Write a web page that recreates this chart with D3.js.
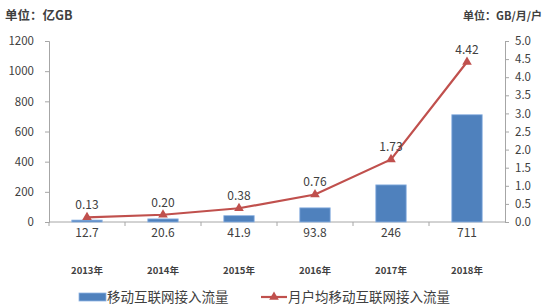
<!DOCTYPE html>
<html>
<head>
<meta charset="utf-8">
<script src="https://cdn.jsdelivr.net/npm/d3@7"></script>
<style>
body { margin: 0; background: #fff; }
text { font-family: "Noto Sans CJK SC", "Noto Sans", sans-serif; fill: #404040; }
</style>
</head>
<body>
<div id="chart"></div>
<script>
const years = ["2013年", "2014年", "2015年", "2016年", "2017年", "2018年"]
const traffic = [12.7, 20.6, 41.9, 93.8, 246, 711]           // 亿GB
const perUser = [0.13, 0.20, 0.38, 0.76, 1.73, 4.42]        // GB/月/户
const trafficLabels = ["12.7", "20.6", "41.9", "93.8", "246", "711"]
const perUserLabels = ["0.13", "0.20", "0.38", "0.76", "1.73", "4.42"]
const leftTicks = [0, 200, 400, 600, 800, 1000, 1200]
const rightTicks = d3.range(0, 5.01, 0.5)

var width = 545, height = 308
var margin = {top: 41, right: 40, bottom: 86, left: 49}
var innerW = width - margin.left - margin.right,
    innerH = height - margin.top - margin.bottom

const svg = d3.select("#chart").append("svg")
    .attr("width", width)
    .attr("height", height)

const g = svg.append("g")
    .attr("transform", "translate(" + margin.left + "," + margin.top + ")")

var x = d3.scaleBand().domain(years).range([0, innerW]).paddingInner(0.6).paddingOuter(0.3)
var xBand = d3.scaleBand().domain(years).range([0, innerW])
var yL = d3.scaleLinear().domain([0, 1200]).range([innerH, 0])
var yR = d3.scaleLinear().domain([0, 5]).range([innerH, 0])

// left axis
var axL = g.append("g").call(d3.axisLeft(yL).tickValues(leftTicks).tickFormat(d3.format("d")).tickSize(4).tickPadding(11))
axL.select(".domain").attr("stroke", "#a6a6a6")
axL.selectAll(".tick line").attr("stroke", "#a6a6a6")
axL.selectAll("text").style("font-size", "11.5px").attr("fill", "#404040")

// right axis
var axR = g.append("g").attr("transform", "translate(" + innerW + ",0)")
    .call(d3.axisRight(yR).tickValues(rightTicks).tickFormat(d3.format(".1f")).tickSize(4).tickPadding(6))
axR.select(".domain").attr("stroke", "#a6a6a6")
axR.selectAll(".tick line").attr("stroke", "#a6a6a6")
axR.selectAll("text").style("font-size", "11.5px").attr("fill", "#404040")

// x axis line with ticks at band edges
g.append("line").attr("x1", 0).attr("x2", innerW).attr("y1", innerH).attr("y2", innerH)
    .attr("stroke", "#a6a6a6")
g.selectAll(".xtick").data(years).enter().append("line")
    .attr("x1", d => xBand(d)).attr("x2", d => xBand(d))
    .attr("y1", innerH).attr("y2", innerH + 4)
    .attr("stroke", "#a6a6a6")

// bars
g.selectAll(".bar").data(traffic).enter().append("rect")
    .attr("x", (d, i) => x(years[i]))
    .attr("y", d => yL(d))
    .attr("width", x.bandwidth())
    .attr("height", d => innerH - yL(d))
    .attr("fill", "#4f81bd")
    .attr("stroke", "#8fb4e3")
    .attr("stroke-width", 0.8)

// bar value labels under axis
g.selectAll(".blabel").data(trafficLabels).enter().append("text")
    .attr("x", (d, i) => xBand(years[i]) + xBand.bandwidth() / 2)
    .attr("y", innerH + 15)
    .attr("text-anchor", "middle")
    .style("font-size", "12px")
    .text(d => d)

// year labels
g.selectAll(".year").data(years).enter().append("text")
    .attr("x", d => xBand(d) + xBand.bandwidth() / 2)
    .attr("y", innerH + 52)
    .attr("text-anchor", "middle")
    .style("font-size", "9.5px")
    .style("font-weight", "bold")
    .attr("fill", "#404040")
    .text(d => d)

// line
var line = d3.line()
    .x((d, i) => xBand(years[i]) + xBand.bandwidth() / 2)
    .y(d => yR(d))

g.append("path").datum(perUser)
    .attr("d", line)
    .attr("fill", "none")
    .attr("stroke", "#c0504d")
    .attr("stroke-width", 2.2)

var tri = d3.symbol().type(d3.symbolTriangle).size(40)
g.selectAll(".marker").data(perUser).enter().append("path")
    .attr("d", tri)
    .attr("transform", (d, i) => "translate(" + (xBand(years[i]) + xBand.bandwidth() / 2) + "," + yR(d) + ")")
    .attr("fill", "#c0504d")

g.selectAll(".llabel").data(perUser).enter().append("text")
    .attr("x", (d, i) => xBand(years[i]) + xBand.bandwidth() / 2)
    .attr("y", d => yR(d) - 8)
    .attr("text-anchor", "middle")
    .style("font-size", "12px")
    .text((d, i) => perUserLabels[i])

// unit labels
svg.append("text").attr("x", 5).attr("y", 20)
    .style("font-size", "12.5px").style("font-weight", "bold").attr("fill", "#262626")
    .text("单位：亿GB")
svg.append("text").attr("x", 542).attr("y", 20).attr("text-anchor", "end")
    .style("font-size", "11px").style("font-weight", "bold").attr("fill", "#262626")
    .text("单位：GB/月/户")

// legend
var leg = svg.append("g").attr("transform", "translate(0,297)")
leg.append("rect").attr("x", 79).attr("y", -4).attr("width", 27).attr("height", 8)
    .attr("fill", "#4f81bd").attr("stroke", "#8fb4e3").attr("stroke-width", 0.8)
leg.append("text").attr("x", 107).attr("y", 5).style("font-size", "13.5px").text("移动互联网接入流量")
leg.append("line").attr("x1", 261).attr("x2", 287).attr("y1", 0).attr("y2", 0)
    .attr("stroke", "#c0504d").attr("stroke-width", 2.2)
leg.append("path").attr("d", tri).attr("transform", "translate(274,0)").attr("fill", "#c0504d")
leg.append("text").attr("x", 288).attr("y", 5).style("font-size", "13.5px").text("月户均移动互联网接入流量")
</script>
</body>
</html>
